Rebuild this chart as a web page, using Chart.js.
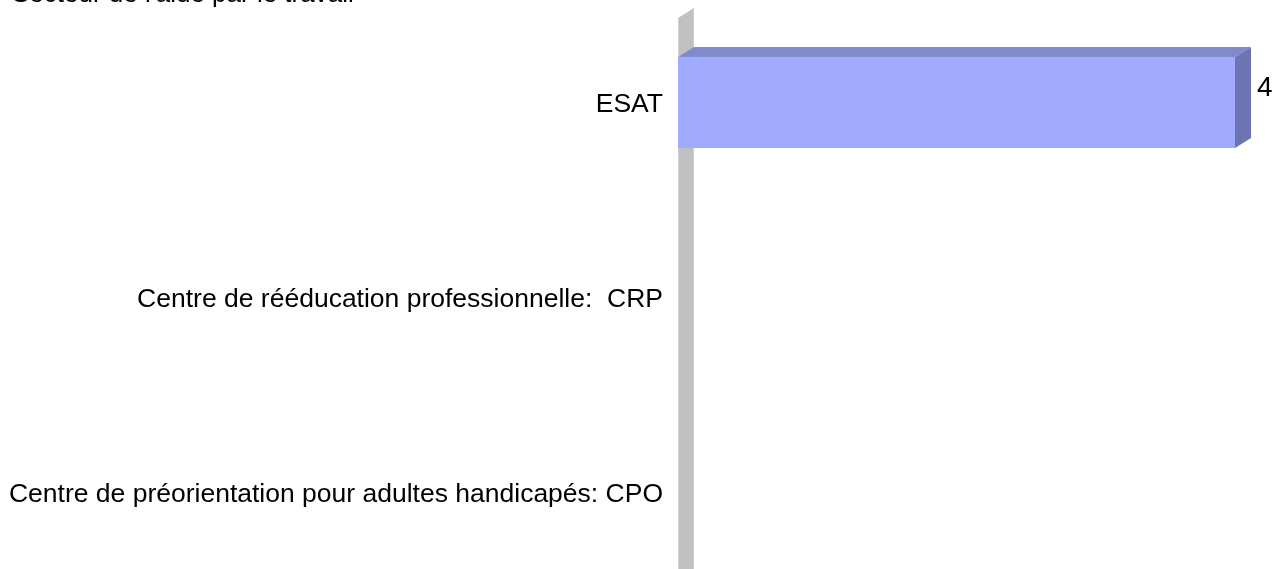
<!DOCTYPE html>
<html>
<head>
<meta charset="utf-8">
<script src="https://cdn.jsdelivr.net/npm/chart.js@4.4.1/dist/chart.umd.min.js"></script>
<style>
  html, body { margin: 0; padding: 0; overflow: hidden; background: #fff; }
  #wrap { position: absolute; left: 0; top: 0; width: 1276px; height: 600px; }
</style>
</head>
<body>
<div id="wrap"><canvas id="chart" width="1276" height="600"></canvas></div>
<script>
const chartTitle = "Secteur de l'aide par le travail";
const categories = [
    "ESAT",
    "Centre de rééducation professionnelle:  CRP",
    "Centre de préorientation pour adultes handicapés: CPO",
];
const values = [4, 0, 0];
const xMin = 0;
const xMax = 4;

const FONT = "'Liberation Sans', Arial, sans-serif";
const DEPTH_X = 16;
const DEPTH_Y = 10;

// fake 3d: side wall, bar top and side faces, value labels, title
const threeD = {
    id: "threeD",
    beforeDatasetsDraw(chart) {
        const { ctx, chartArea } = chart;
        const l = chartArea.left;
        ctx.save();
        ctx.fillStyle = "#c0c0c0";
        ctx.beginPath();
        ctx.moveTo(l, chartArea.top + 13);
        ctx.lineTo(l + DEPTH_X, chartArea.top + 13 - DEPTH_Y);
        ctx.lineTo(l + DEPTH_X, chart.height);
        ctx.lineTo(l, chart.height);
        ctx.closePath();
        ctx.fill();
        ctx.strokeStyle = "#cfcfcf";
        ctx.lineWidth = 1;
        ctx.beginPath();
        ctx.moveTo(l + 0.5, chartArea.top + 13);
        ctx.lineTo(l + 0.5, chart.height);
        ctx.moveTo(l + DEPTH_X - 0.5, chartArea.top + 3);
        ctx.lineTo(l + DEPTH_X - 0.5, chart.height);
        ctx.stroke();
        ctx.restore();
    },
    afterDatasetsDraw(chart) {
        const { ctx } = chart;
        const meta = chart.getDatasetMeta(0);
        ctx.save();
        meta.data.forEach((bar, i) => {
            if (!values[i]) return;
            const top = bar.y - bar.height / 2;
            const bottom = bar.y + bar.height / 2;
            ctx.fillStyle = "#808acc";
            ctx.beginPath();
            ctx.moveTo(bar.base, top);
            ctx.lineTo(bar.x, top);
            ctx.lineTo(bar.x + DEPTH_X, top - DEPTH_Y);
            ctx.lineTo(bar.base + DEPTH_X, top - DEPTH_Y);
            ctx.closePath();
            ctx.fill();
            ctx.fillStyle = "#6c74b2";
            ctx.beginPath();
            ctx.moveTo(bar.x, top);
            ctx.lineTo(bar.x + DEPTH_X, top - DEPTH_Y);
            ctx.lineTo(bar.x + DEPTH_X, bottom - DEPTH_Y);
            ctx.lineTo(bar.x, bottom);
            ctx.closePath();
            ctx.fill();
            ctx.fillStyle = "#000";
            ctx.font = "28px " + FONT;
            ctx.textAlign = "left";
            ctx.textBaseline = "middle";
            ctx.fillText(String(values[i]), bar.x + DEPTH_X + 6, bar.y - 14);
        });
        ctx.font = "26px " + FONT;
        ctx.fillStyle = "#000";
        ctx.textAlign = "left";
        ctx.textBaseline = "alphabetic";
        ctx.fillText(chartTitle, 12, 2);
        ctx.restore();
    },
};

new Chart(document.getElementById("chart"), {
    type: "bar",
    data: {
        labels: categories,
        datasets: [{
            data: values,
            backgroundColor: "#a0aaff",
            borderWidth: 0,
            barPercentage: 0.467,
            categoryPercentage: 1,
        }],
    },
    options: {
        indexAxis: "y",
        responsive: false,
        animation: false,
        layout: { padding: { top: 5, bottom: 10, left: 0, right: 41 } },
        plugins: {
            legend: { display: false },
            tooltip: { enabled: false },
            title: { display: false },
        },
        scales: {
            x: { display: false, min: xMin, max: xMax },
            y: {
                offset: true,
                border: { display: false },
                grid: { display: false, drawTicks: false },
                ticks: {
                    color: "#000",
                    padding: 15,
                    labelOffset: 2,
                    font: { family: FONT, size: 26.5 },
                },
                afterFit(scale) {
                    scale.width = 678;
                    scale.paddingTop = 0;
                    scale.paddingBottom = 0;
                },
            },
        },
    },
    plugins: [threeD],
});
</script>
</body>
</html>
